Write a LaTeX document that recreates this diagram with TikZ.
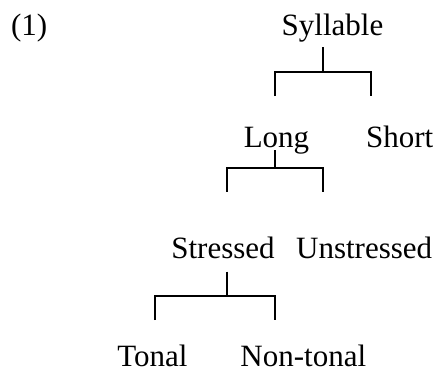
\documentclass[tikz,border=0pt]{standalone}
\usepackage{fontspec}
\setmainfont{Liberation Serif}
\begin{document}
\begin{tikzpicture}[x=1pt,y=-1pt,
  lbl/.style={anchor=base,inner sep=0pt,font=\fontsize{31}{37}\selectfont},
  br/.style={line width=1.7pt}]
\useasboundingbox (0,0) rectangle (439,372);
% labels
\node[lbl] (num) at (29.2,35) {(1)};
\node[lbl] (syl) at (332.5,35.5) {Syllable};
\node[lbl] (long) at (276.5,147) {Long};
\node[lbl] (short) at (399.7,147) {Short};
\node[lbl] (str) at (223,258) {Stressed};
\node[lbl] (unstr) at (364.2,258) {Unstressed};
\node[lbl] (ton) at (152.5,366) {Tonal};
\node[lbl] (nton) at (303.3,366) {Non-tonal};
% bracket 1
\coordinate (t1) at (323.3,47.3);
\coordinate (m1) at (323.3,71.7);
\coordinate (a1) at (275,96);
\coordinate (c1) at (371,96);
\draw[br] (t1) -- (m1);
\draw[br] (a1) -- (a1 |- m1) -- (c1 |- m1) -- (c1);
% bracket 2
\coordinate (t2) at (275,150);
\coordinate (m2) at (275,168.3);
\coordinate (a2) at (226.7,191.7);
\coordinate (c2) at (323.3,191.7);
\draw[br] (t2) -- (m2);
\draw[br] (a2) -- (a2 |- m2) -- (c2 |- m2) -- (c2);
% bracket 3
\coordinate (t3) at (227.3,271.7);
\coordinate (m3) at (227.3,295.7);
\coordinate (a3) at (155,320);
\coordinate (c3) at (275,320);
\draw[br] (t3) -- (m3);
\draw[br] (a3) -- (a3 |- m3) -- (c3 |- m3) -- (c3);
\end{tikzpicture}
\end{document}
